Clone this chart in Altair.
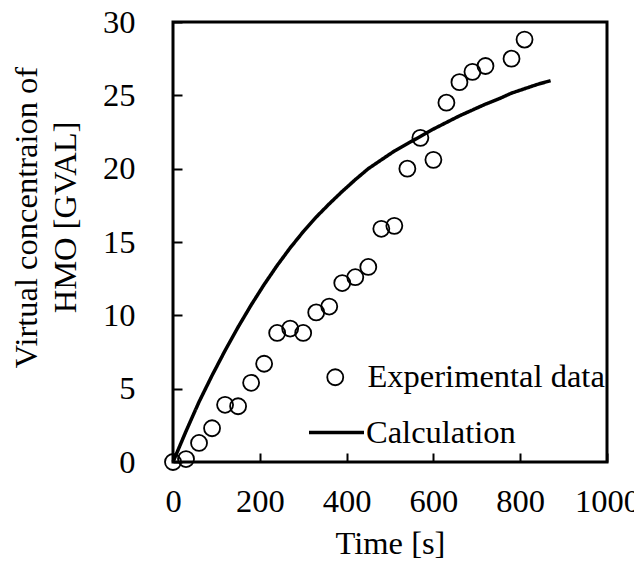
import altair as alt
import pandas as pd

# Experimental data (time [s], virtual concentration [GVAL])
exp_t = [0, 30, 60, 90, 120, 150, 180, 210, 240, 270, 300, 330, 360, 390,
         420, 450, 480, 510, 540, 570, 600, 630, 660, 690, 720, 780, 810]
exp_y = [0.0, 0.2, 1.3, 2.3, 3.9, 3.8, 5.4, 6.7, 8.8, 9.1, 8.8, 10.2, 10.6, 12.2,
         12.6, 13.3, 15.9, 16.1, 20.0, 22.1, 20.6, 24.5, 25.9, 26.6, 27.0, 27.5, 28.8]

# Calculation curve
calc_t = [0, 30, 60, 90, 120, 150, 180, 210, 240, 270, 300, 330, 360, 390, 420,
          450, 480, 510, 540, 570, 600, 630, 660, 690, 720, 750, 780, 810, 840, 870]
calc_y = [0.0, 2.1, 4.1, 5.9, 7.6, 9.2, 10.7, 12.1, 13.4, 14.6, 15.7, 16.7, 17.6, 18.45, 19.25,
          20.0, 20.6, 21.2, 21.7, 22.2, 22.7, 23.15, 23.6, 24.0, 24.4, 24.75, 25.15, 25.45, 25.75, 26.0]

x_ticks = [0, 200, 400, 600, 800, 1000]
y_ticks = [0, 5, 10, 15, 20, 25, 30]

FONT = "Liberation Serif"
FS = 32.5

exp_df = pd.DataFrame({"t": exp_t, "c": exp_y, "s": "Experimental data"})
calc_df = pd.DataFrame({"t": calc_t, "c": calc_y, "s": "Calculation"})

x_enc = alt.X("t:Q", scale=alt.Scale(domain=[0, 1000], nice=False),
              axis=alt.Axis(values=x_ticks, format="d", title="Time [s]", offset=-9, tickSize=9,
                            tickWidth=2, tickColor="black", domain=False, grid=False,
                            labelOverlap=False, labelFlush=False,
                            labelPadding=23, labelFont=FONT, labelFontSize=FS,
                            labelColor="black", labelFontWeight="normal",
                            titleFont=FONT, titleFontSize=FS, titleFontWeight="normal",
                            titleColor="black", titlePadding=10))
y_enc = alt.Y("c:Q", scale=alt.Scale(domain=[0, 30], nice=False),
              axis=alt.Axis(values=y_ticks, format="d",
                            title=["Virtual concentraion of", "HMO [GVAL]"],
                            offset=-9, tickSize=9, tickWidth=2, tickColor="black",
                            domain=False, grid=False, labelOverlap=False, labelFlush=False,
                            labelPadding=38, labelFont=FONT,
                            labelFontSize=FS, labelColor="black",
                            titleFont=FONT, titleFontSize=FS, titleFontWeight="normal",
                            titleColor="black", titleLineHeight=39, titleAngle=270,
                            titleBaseline="alphabetic", titleX=-146, titleY=195,
                            titleAlign="center"))

points = alt.Chart(exp_df).mark_point(
    shape="circle", filled=False, size=256, strokeWidth=1.8, color="black", opacity=1
).encode(
    x=x_enc, y=y_enc,
    shape=alt.Shape("s:N", scale=alt.Scale(domain=["Experimental data"], range=["circle"]),
                    legend=alt.Legend(orient="none", legendX=146, legendY=339, title=None,
                                      padding=0, symbolType="circle", symbolSize=256,
                                      symbolStrokeWidth=1.8, symbolStrokeColor="black",
                                      symbolFillColor="white", labelFont=FONT,
                                      labelFontSize=FS, labelColor="black", labelOffset=16,
                                      labelLimit=500)),
)

line = alt.Chart(calc_df).mark_line(color="black", strokeWidth=3.5).encode(
    x="t:Q", y="c:Q",
    strokeDash=alt.StrokeDash("s:N", scale=alt.Scale(domain=["Calculation"], range=[[1, 0]]),
                              legend=alt.Legend(orient="none", legendX=134, legendY=381,
                                                title=None, padding=0, symbolType="stroke",
                                                symbolSize=3025, symbolStrokeWidth=3.5,
                                                symbolStrokeColor="black", labelFont=FONT,
                                                labelFontSize=FS, labelColor="black",
                                                labelOffset=0, labelLimit=500)),
)

chart = alt.layer(line, points).resolve_legend(shape="independent", strokeDash="independent").properties(
    width=434, height=440,
    autosize=alt.AutoSizeParams(type="none"),
    padding={"left": 165, "top": 14, "right": 27, "bottom": 98},
    background="white",
).configure_view(stroke="black", strokeWidth=3)

chart.save("out.html", embed_options={"renderer": "svg", "actions": False})
